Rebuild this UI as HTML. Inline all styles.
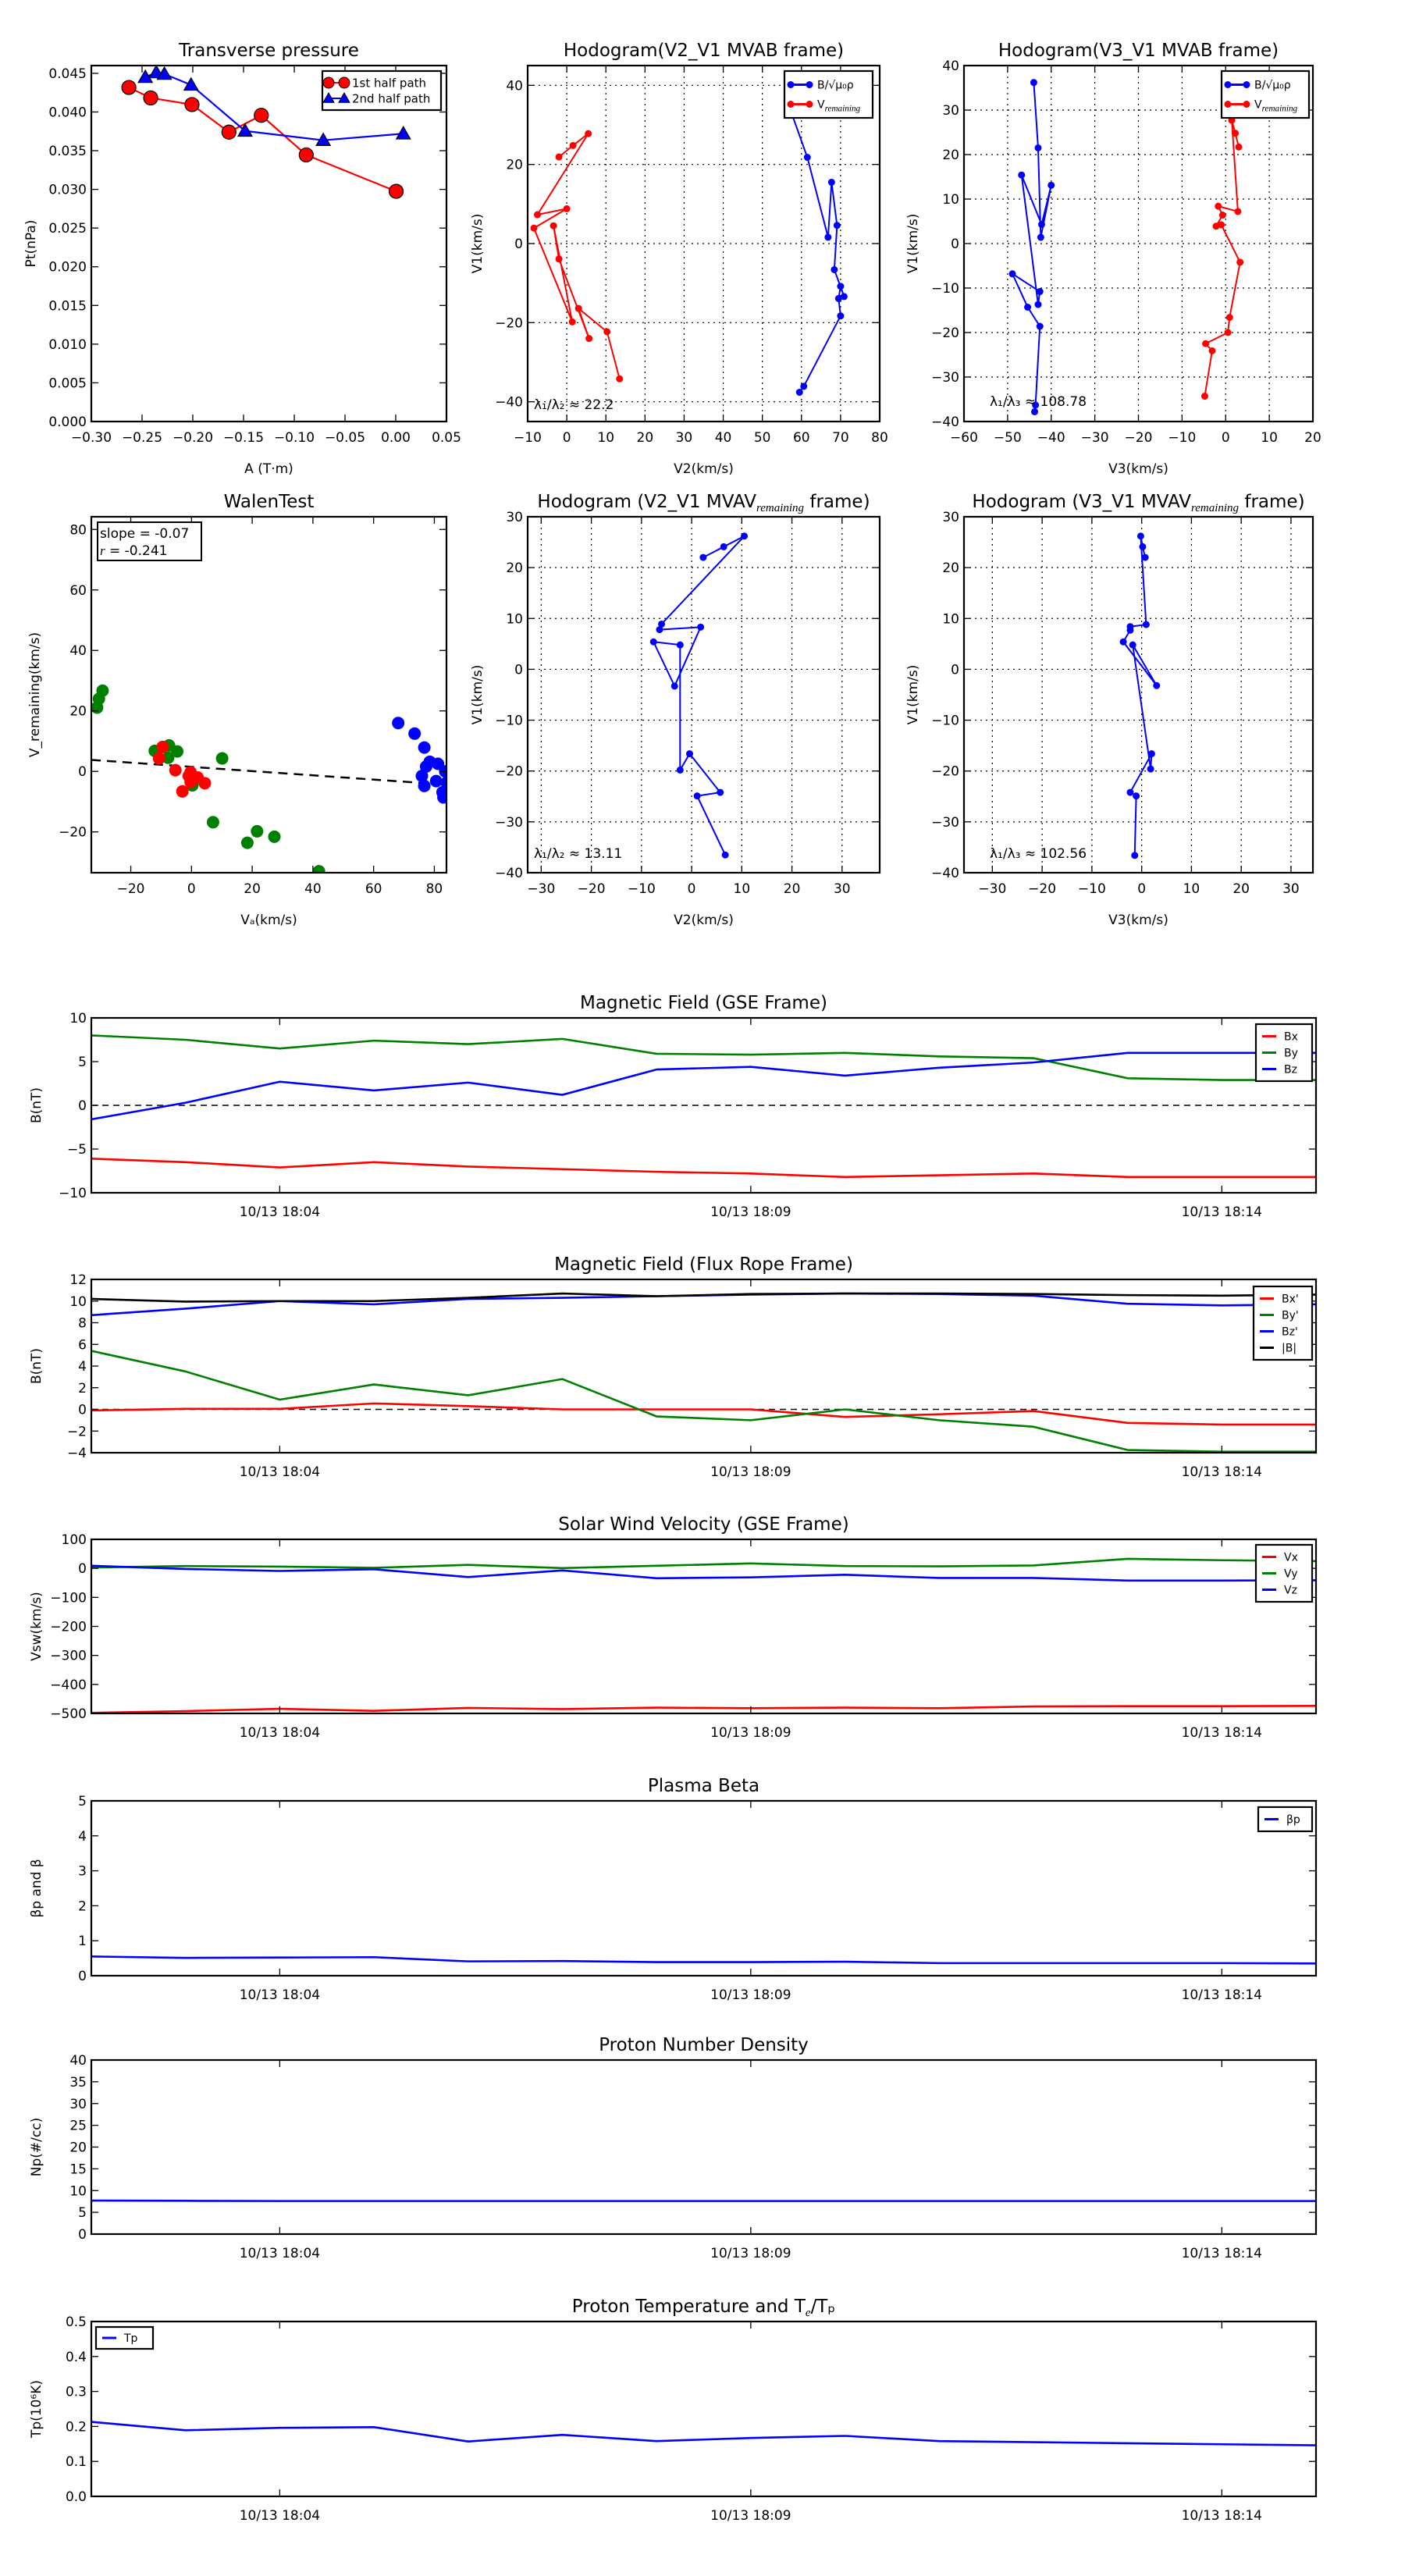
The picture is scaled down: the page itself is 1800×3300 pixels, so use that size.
<!DOCTYPE html>
<html><head><meta charset="utf-8">
<style>
html,body{margin:0;padding:0;background:#fff;}
svg{display:block;font-family:"DejaVu Sans","Liberation Sans",sans-serif;}
</style></head>
<body>
<svg id="fig" xmlns="http://www.w3.org/2000/svg" width="1800" height="3300" viewBox="0 0 1800 3300"></svg>
<script>
// ---------- data ----------
const ptRedA=[-0.263,-0.2415,-0.2008,-0.1644,-0.1325,-0.0882,0.0004];
const ptRedP=[0.04317,0.04182,0.04096,0.0374,0.03957,0.03445,0.02975];
const ptBlueA=[-0.2468,-0.236,-0.228,-0.2017,-0.1485,-0.0714,0.0075];
const ptBlueP=[0.0445,0.0451,0.0449,0.0435,0.03755,0.03635,0.0372];

const h1BlueX=[56.3,61.5,66.8,67.7,69.1,68.4,70.9,70,69.5,70,60.6,59.5];
const h1BlueY=[36.2,21.8,1.6,15.5,4.6,-6.6,-13.4,-10.8,-13.9,-18.3,-36.1,-37.6];
const h1RedX=[-2,1.6,5.5,-7.5,0,-8.4,1.4,-3.4,-2,5.7,3,10.3,13.5];
const h1RedY=[21.9,24.8,27.8,7.3,8.8,3.9,-19.8,4.5,-3.9,-24,-16.4,-22.3,-34.2];

const h2BlueX=[-44,-43,-42.4,-40,-42.2,-46.8,-43,-42.6,-48.9,-45.4,-42.6,-43.6,-43.8];
const h2BlueY=[36.2,21.5,1.4,13.1,4.3,15.4,-13.7,-10.8,-6.8,-14.3,-18.6,-36.3,-37.8];
const h2RedX=[3,2.2,1.4,2.8,-1.7,-0.7,-2.2,-1,3.3,0.9,0.5,-4.6,-3.1,-4.8];
const h2RedY=[21.7,24.8,27.7,7.2,8.4,6.4,3.9,4.2,-4.2,-16.6,-20,-22.5,-24.1,-34.3];

const wGreenX=[-29.3,-30.5,-31.1,-12.1,-7.4,-4.7,-7.7,10.1,0.3,7.1,21.6,18.4,27.3,42];
const wGreenY=[26.7,24,21.1,6.8,8.6,6.6,4.5,4.3,-4.6,-16.8,-19.8,-23.6,-21.6,-33];
const wRedX=[-9.5,-10.7,-5.3,-0.3,-0.9,0.6,2,4.4,-3,-0.3];
const wRedY=[8.1,4.3,0.4,-0.3,-1.5,-2.5,-2,-3.9,-6.6,-3.5];
const wBlueX=[68.1,73.5,76.7,78.5,77.3,81.2,75.9,76.7,80.6,83.6,84.1,82.7,83];
const wBlueY=[16,12.5,7.9,3.2,1.6,2.5,-1.5,-4.8,-3.2,0,-3.7,-6.9,-8.6];
const wSlope=-0.07, wIntercept=1.5;

const h3X=[2.3,6.4,10.5,-6,-6.4,1.8,-3.4,-7.6,-2.3,-2.3,-0.4,5.7,1.1,6.7];
const h3Y=[22,24.1,26.2,8.9,7.8,8.3,-3.3,5.4,4.8,-19.8,-16.6,-24.2,-24.9,-36.5];
const h4X=[0.7,0.2,-0.2,0.9,-2.3,-2.3,-3.7,3,-1.8,1.8,2,-2.3,-1.1,-1.4];
const h4Y=[22,24.1,26.2,8.8,8.4,7.7,5.4,-3.2,4.8,-19.6,-16.6,-24.2,-24.9,-36.6];

const minutes=[0,1,2,3,4,5,6,7,8,9,10,11,12,13];
const timeTicks=[2,7,12];
const timeTickLabels=["10/13 18:04","10/13 18:09","10/13 18:14"];
const gseBx=[-6.1,-6.5,-7.1,-6.5,-7.0,-7.3,-7.6,-7.8,-8.2,-8.0,-7.8,-8.2,-8.2,-8.2];
const gseBy=[8.0,7.5,6.5,7.4,7.0,7.6,5.9,5.8,6.0,5.6,5.4,3.1,2.9,2.9];
const gseBz=[-1.6,0.3,2.7,1.7,2.6,1.2,4.1,4.4,3.4,4.3,4.9,6.0,6.0,6.0];
const frBx=[-0.1,0.05,0.05,0.55,0.3,0,0,0,-0.7,-0.45,-0.15,-1.25,-1.4,-1.4];
const frBy=[5.4,3.5,0.9,2.3,1.3,2.8,-0.65,-1.0,0.0,-1.0,-1.6,-3.75,-3.9,-3.9];
const frBz=[8.7,9.3,10.0,9.7,10.2,10.3,10.45,10.6,10.7,10.65,10.5,9.75,9.6,9.7];
const frBt=[10.2,9.95,10.0,10.0,10.3,10.7,10.45,10.65,10.7,10.7,10.65,10.55,10.5,10.6];
const vx=[-498,-492,-484,-491,-481,-485,-480,-482,-480,-482,-476,-475,-475,-474];
const vy=[3,8,6,2,12,1,9,17,8,7,10,33,28,25];
const vz=[9,-2,-9,-3,-30,-7,-34,-31,-22,-33,-33,-42,-42,-41];
const betaP=[0.55,0.51,0.52,0.53,0.41,0.42,0.39,0.39,0.4,0.36,0.36,0.36,0.36,0.35];
const np=[7.7,7.65,7.6,7.6,7.6,7.6,7.6,7.6,7.6,7.6,7.6,7.6,7.6,7.6];
const tp=[0.213,0.189,0.196,0.198,0.157,0.176,0.158,0.167,0.173,0.158,0.155,0.152,0.149,0.146];

// ---------- helpers ----------
const NS="http://www.w3.org/2000/svg";
const fig=document.getElementById('fig');
function mk(tag,attrs,parent){const e=document.createElementNS(NS,tag);for(const k in attrs)e.setAttribute(k,attrs[k]);(parent||fig).appendChild(e);return e;}
function txt(s,x,y,size,anchor,parent,extra){const t=mk('text',Object.assign({x:x,y:y,'font-size':size,'text-anchor':anchor||'middle',fill:'#000'},extra||{}),parent);t.textContent=s;return t;}
function fmt(v,d){let s=v.toFixed(d);if(v<0)s='\u2212'+s.slice(1);if(s==='\u22120'||/^\u22120\.0+$/.test(s))s=s.slice(1);return s;}

function axes(name,b,xr,yr,o){
  const g=mk('g',{});
  
  
  const sx=v=>b.x0+(v-xr[0])/(xr[1]-xr[0])*(b.x1-b.x0);
  const sy=v=>b.y1-(v-yr[0])/(yr[1]-yr[0])*(b.y1-b.y0);
  const clipId='c'+name;
  const cp=mk('clipPath',{id:clipId},g);mk('rect',{x:b.x0,y:b.y0,width:b.x1-b.x0,height:b.y1-b.y0},cp);
  if(o.grid){
    o.xt.forEach(v=>{const l=mk('line',{x1:sx(v),x2:sx(v),y1:b.y0,y2:b.y1,stroke:'#000','stroke-width':1.2,'stroke-dasharray':'2,5'},g);});
    o.yt.forEach(v=>{const l=mk('line',{x1:b.x0,x2:b.x1,y1:sy(v),y2:sy(v),stroke:'#000','stroke-width':1.2,'stroke-dasharray':'2,5'},g);});
  }
  const plot=mk('g',{'clip-path':'url(#'+clipId+')'},g);
  
  
  o.xt.forEach((v,i)=>{const x=sx(v);
    mk('line',{x1:x,x2:x,y1:b.y1,y2:b.y1-9,stroke:'#000','stroke-width':1.3},g);
    mk('line',{x1:x,x2:x,y1:b.y0,y2:b.y0+9,stroke:'#000','stroke-width':1.3},g);
    const t=txt(o.xl[i],x,b.y1+(o.xoff||25),o.fs||17,'middle',g);
    });
  o.yt.forEach((v,i)=>{const y=sy(v);
    mk('line',{x1:b.x0,x2:b.x0+9,y1:y,y2:y,stroke:'#000','stroke-width':1.3},g);
    mk('line',{x1:b.x1,x2:b.x1-9,y1:y,y2:y,stroke:'#000','stroke-width':1.3},g);
    const t=txt(o.yl[i],b.x0-6,y+6,o.fs||17,'end',g);
    });
  mk('rect',{x:b.x0,y:b.y0,width:b.x1-b.x0,height:b.y1-b.y0,fill:'none',stroke:'#000','stroke-width':2.2},g);
  if(o.title){const t=txt(o.title,(b.x0+b.x1)/2,b.y0-12,o.tfs||23,'middle',g);if(o.titleSub){const s=mk('tspan',{'font-style':'italic','font-size':15,'font-family':'Liberation Serif,serif','dy':5},t);s.textContent=o.titleSub;const s2=mk('tspan',{dy:-5},t);s2.textContent=o.titleEnd;}}
  if(o.xlabel){const t=txt(o.xlabel,(b.x0+b.x1)/2,b.y1+(o.xlo||65),17,'middle',g);}
  if(o.ylabel){const cx=o.ylx,cy=(b.y0+b.y1)/2;const t=txt(o.ylabel,cx,cy,17,'middle',g,{transform:'rotate(-90 '+cx+' '+cy+')'});}
  return {g:g,plot:plot,sx:sx,sy:sy,b:b};
}
function line(ax,xs,ys,color,w,name,dash){
  const p=mk('polyline',{points:xs.map((x,i)=>ax.sx(x)+','+ax.sy(ys[i])).join(' '),fill:'none',stroke:color,'stroke-width':w,'stroke-linejoin':'round'},ax.plot);
  if(dash)p.setAttribute('stroke-dasharray',dash);
  
  
  return p;
}
function dots(ax,xs,ys,color,r,name,edge){
  xs.forEach((x,i)=>{const c=mk('circle',{cx:ax.sx(x),cy:ax.sy(ys[i]),r:r,fill:color,stroke:edge||'none','stroke-width':edge?1.2:0},ax.plot);
    
    });
}
function tris(ax,xs,ys,color,s,name){
  xs.forEach((x,i)=>{const cx=ax.sx(x),cy=ax.sy(ys[i]);const p=mk('polygon',{points:(cx)+','+(cy-s)+' '+(cx-s)+','+(cy+s*0.75)+' '+(cx+s)+','+(cy+s*0.75),fill:color,stroke:'#000','stroke-width':1.2},ax.plot);
    
    });
}
function range(a,b,s){const r=[];for(let v=a;v<=b+1e-9;v+=s)r.push(+v.toFixed(6));return r;}
function legend(name,x,y,w,h,entries,fs){
  const g=mk('g',{});
  
  
  mk('rect',{x:x,y:y,width:w,height:h,fill:'#fff',stroke:'#000','stroke-width':2.2},g);
  const step=(h-10)/entries.length;
  entries.forEach((e,i)=>{const cy=y+5+step*(i+0.5);
    const eg=mk('g',{},g);
    
    
    const lw=e.lw||28;
    mk('line',{x1:x+8,x2:x+8+lw,y1:cy,y2:cy,stroke:e.c,'stroke-width':e.w||3},eg);
    if(e.m==='o'){mk('circle',{cx:x+8,cy:cy,r:e.r,fill:e.c,stroke:e.edge||'none'},eg);mk('circle',{cx:x+8+lw,cy:cy,r:e.r,fill:e.c,stroke:e.edge||'none'},eg);}
    if(e.m==='^'){[x+8,x+8+lw].forEach(px=>mk('polygon',{points:px+','+(cy-e.r)+' '+(px-e.r)+','+(cy+e.r*0.75)+' '+(px+e.r)+','+(cy+e.r*0.75),fill:e.c,stroke:'#000'},eg));}
    const t=txt(e.t,x+lw+18,cy+fs*0.35,fs,'start',eg);
    if(e.sub){const s=mk('tspan',{'font-style':'italic','font-family':'Liberation Serif,serif','font-size':fs*0.8,dy:4},t);s.textContent=e.sub;}
  });
}

// ---------- Panel 1: Transverse pressure ----------
{const xt=range(-0.30,0.05,0.05);const yt=range(0,0.045,0.005);
 const ax=axes('transverse-pressure-chart',{x0:117,x1:572,y0:84,y1:540},[-0.30,0.05],[0,0.046],
  {xt:xt,xl:xt.map(v=>fmt(v,2)),yt:yt,yl:yt.map(v=>v.toFixed(3)),title:'Transverse pressure',xlabel:'A (T\u00b7m)',ylabel:'Pt(nPa)',ylx:45,xoff:26,xlo:66});
 line(ax,ptRedA,ptRedP,'#ff0000',2.2,'first-half-path-line');
 dots(ax,ptRedA,ptRedP,'#ff0000',9,'first-half-point','#000');
 line(ax,ptBlueA,ptBlueP,'#0000ff',2.2,'second-half-path-line');
 tris(ax,ptBlueA,ptBlueP,'#0000ff',9,'second-half-point');
 legend('pressure-legend',413,91,152,50,[{t:'1st half path',c:'#ff0000',m:'o',r:7,edge:'#000',w:2,lw:20},{t:'2nd half path',c:'#0000ff',m:'^',r:7,w:2,lw:20}],15);
}
// ---------- Panel 2 ----------
{const xt=range(-10,80,10),yt=[-40,-20,0,20,40];
 const ax=axes('hodogram-v2-v1-mvab',{x0:676,x1:1127,y0:84,y1:540},[-10,80],[-45,45],
  {grid:true,xt:xt,xl:xt.map(v=>fmt(v,0)),yt:yt,yl:yt.map(v=>fmt(v,0)),title:'Hodogram(V2_V1 MVAB frame)',xlabel:'V2(km/s)',ylabel:'V1(km/s)',ylx:617,xoff:26,xlo:66});
 line(ax,h1BlueX,h1BlueY,'#0000ff',2,'b-alfven-path');dots(ax,h1BlueX,h1BlueY,'#0000ff',4.5,'b-alfven-point');
 line(ax,h1RedX,h1RedY,'#ff0000',2,'v-remaining-path');dots(ax,h1RedX,h1RedY,'#ff0000',4.5,'v-remaining-point');
 const t=txt('\u03bb\u2081/\u03bb\u2082 \u2248 22.2',684,524,17,'start');
 legend('hodogram-legend',1005,91,113,60,[{t:'B/\u221a\u03bc\u2080\u03c1',c:'#0000ff',m:'o',r:4.5,lw:24},{t:'V',sub:'remaining',c:'#ff0000',m:'o',r:4.5,lw:24}],14);
}
// ---------- Panel 3 ----------
{const xt=range(-60,20,10),yt=range(-40,40,10);
 const ax=axes('hodogram-v3-v1-mvab',{x0:1235,x1:1682,y0:84,y1:540},[-60,20],[-40,40],
  {grid:true,xt:xt,xl:xt.map(v=>fmt(v,0)),yt:yt,yl:yt.map(v=>fmt(v,0)),title:'Hodogram(V3_V1 MVAB frame)',xlabel:'V3(km/s)',ylabel:'V1(km/s)',ylx:1175,xoff:26,xlo:66});
 line(ax,h2BlueX,h2BlueY,'#0000ff',2,'b-alfven-path');dots(ax,h2BlueX,h2BlueY,'#0000ff',4.5,'b-alfven-point');
 line(ax,h2RedX,h2RedY,'#ff0000',2,'v-remaining-path');dots(ax,h2RedX,h2RedY,'#ff0000',4.5,'v-remaining-point');
 const t=txt('\u03bb\u2081/\u03bb\u2083 \u2248 108.78',1268,520,17,'start');
 legend('hodogram-legend',1565,91,112,60,[{t:'B/\u221a\u03bc\u2080\u03c1',c:'#0000ff',m:'o',r:4.5,lw:24},{t:'V',sub:'remaining',c:'#ff0000',m:'o',r:4.5,lw:24}],14);
}
// ---------- Panel 4: Walen ----------
{const xt=range(-20,80,20),yt=range(-20,80,20);
 const ax=axes('walen-test-chart',{x0:117,x1:572,y0:662,y1:1118},[-33,84],[-33.5,84.2],
  {xt:xt,xl:xt.map(v=>fmt(v,0)),yt:yt,yl:yt.map(v=>fmt(v,0)),title:'WalenTest',xlabel:'V\u2090(km/s)',ylabel:'V_remaining(km/s)',ylx:50,xoff:26,xlo:66});
 line(ax,[-33,84],[wIntercept+wSlope*-33,wIntercept+wSlope*84],'#000',2.5,'regression-line','12,8');
 dots(ax,wGreenX,wGreenY,'#008000',8,'walen-point-green');
 dots(ax,wRedX,wRedY,'#ff0000',8,'walen-point-red');
 dots(ax,wBlueX,wBlueY,'#0000ff',8,'walen-point-blue');
 const g=mk('g',{});
 mk('rect',{x:125,y:669,width:133,height:49,fill:'#fff',stroke:'#000','stroke-width':2},g);
 txt('slope = -0.07',128,689,17,'start',g);
 const r=txt('',128,711,17,'start',g);const ri=mk('tspan',{'font-style':'italic','font-family':'Liberation Serif,serif'},r);ri.textContent='r';const rr=mk('tspan',{},r);rr.textContent=' = -0.241';
}
// ---------- Panel 5 ----------
{const xt=range(-30,30,10),yt=range(-40,30,10);
 const ax=axes('hodogram-v2-v1-mvav',{x0:676,x1:1127,y0:662,y1:1118},[-32.7,37.5],[-40,30],
  {grid:true,xt:xt,xl:xt.map(v=>fmt(v,0)),yt:yt,yl:yt.map(v=>fmt(v,0)),title:'Hodogram (V2_V1 MVAV',titleSub:'remaining',titleEnd:' frame)',xlabel:'V2(km/s)',ylabel:'V1(km/s)',ylx:617,xoff:26,xlo:66});
 line(ax,h3X,h3Y,'#0000ff',2,'hodogram-path');dots(ax,h3X,h3Y,'#0000ff',4.5,'hodogram-point');
 const t=txt('\u03bb\u2081/\u03bb\u2082 \u2248 13.11',684,1099,17,'start');
}
// ---------- Panel 6 ----------
{const xt=range(-30,30,10),yt=range(-40,30,10);
 const ax=axes('hodogram-v3-v1-mvav',{x0:1235,x1:1682,y0:662,y1:1118},[-35.7,34.4],[-40,30],
  {grid:true,xt:xt,xl:xt.map(v=>fmt(v,0)),yt:yt,yl:yt.map(v=>fmt(v,0)),title:'Hodogram (V3_V1 MVAV',titleSub:'remaining',titleEnd:' frame)',xlabel:'V3(km/s)',ylabel:'V1(km/s)',ylx:1175,xoff:26,xlo:66});
 line(ax,h4X,h4Y,'#0000ff',2,'hodogram-path');dots(ax,h4X,h4Y,'#0000ff',4.5,'hodogram-point');
 const t=txt('\u03bb\u2081/\u03bb\u2083 \u2248 102.56',1268,1099,17,'start');
}
// ---------- time series ----------
const TX1=1686;
function ts(name,y0,y1,yr,yt,yl,title,ylabel,series,zero,leg,titleSub,titleEnd){
  const ax=axes(name,{x0:117,x1:TX1,y0:y0,y1:y1},[0,13],yr,
   {xt:timeTicks,xl:timeTickLabels,yt:yt,yl:yl,title:title,titleSub:titleSub,titleEnd:titleEnd,ylabel:ylabel,ylx:52,xoff:30});
  if(zero)line(ax,[0,13],[0,0],'#000',1.5,'zero-line','8,6');
  series.forEach(s=>line(ax,minutes,s.v,s.c,2.6,s.n));
  if(leg)legend(name+'-legend',leg.x,leg.y,leg.w,leg.h,leg.e,14);
}
ts('magnetic-field-gse',1304,1528,[-10,10],[-10,-5,0,5,10],['\u221210','\u22125','0','5','10'],'Magnetic Field (GSE Frame)','B(nT)',
  [{v:gseBx,c:'#ff0000',n:'bx-line'},{v:gseBy,c:'#008000',n:'by-line'},{v:gseBz,c:'#0000ff',n:'bz-line'}],true,
  {x:1609,y:1312,w:72,h:73,e:[{t:'Bx',c:'#ff0000',lw:18},{t:'By',c:'#008000',lw:18},{t:'Bz',c:'#0000ff',lw:18}]});
ts('magnetic-field-flux-rope',1639,1861,[-4,12],range(-4,12,2),range(-4,12,2).map(v=>fmt(v,0)),'Magnetic Field (Flux Rope Frame)','B(nT)',
  [{v:frBx,c:'#ff0000',n:'bx-prime-line'},{v:frBy,c:'#008000',n:'by-prime-line'},{v:frBz,c:'#0000ff',n:'bz-prime-line'},{v:frBt,c:'#000000',n:'b-magnitude-line'}],true,
  {x:1606,y:1648,w:75,h:94,e:[{t:"Bx'",c:'#ff0000',lw:18},{t:"By'",c:'#008000',lw:18},{t:"Bz'",c:'#0000ff',lw:18},{t:'|B|',c:'#000',lw:18}]});
ts('solar-wind-velocity',1972,2195,[-500,100],range(-500,100,100),range(-500,100,100).map(v=>fmt(v,0)),'Solar Wind Velocity (GSE Frame)','Vsw(km/s)',
  [{v:vx,c:'#ff0000',n:'vx-line'},{v:vy,c:'#008000',n:'vy-line'},{v:vz,c:'#0000ff',n:'vz-line'}],false,
  {x:1609,y:1979,w:72,h:73,e:[{t:'Vx',c:'#ff0000',lw:18},{t:'Vy',c:'#008000',lw:18},{t:'Vz',c:'#0000ff',lw:18}]});
ts('plasma-beta',2307,2531,[0,5],range(0,5,1),range(0,5,1).map(v=>fmt(v,0)),'Plasma Beta','\u03b2p and \u03b2',
  [{v:betaP,c:'#0000ff',n:'beta-p-line'}],false,
  {x:1612,y:2315,w:69,h:31,e:[{t:'\u03b2p',c:'#0000ff',lw:18}]});
ts('proton-number-density',2639,2862,[0,40],range(0,40,5),range(0,40,5).map(v=>fmt(v,0)),'Proton Number Density','Np(#/cc)',
  [{v:np,c:'#0000ff',n:'np-line'}],false,null);
ts('proton-temperature',2974,3198,[0,0.5],range(0,0.5,0.1),range(0,0.5,0.1).map(v=>v.toFixed(1)),'Proton Temperature and T','Tp(10\u2076K)',
  [{v:tp,c:'#0000ff',n:'tp-line'}],false,
  {x:123,y:2981,w:73,h:28,e:[{t:'Tp',c:'#0000ff',lw:18}]},'e','/T\u209a');
</script>
</body></html>
